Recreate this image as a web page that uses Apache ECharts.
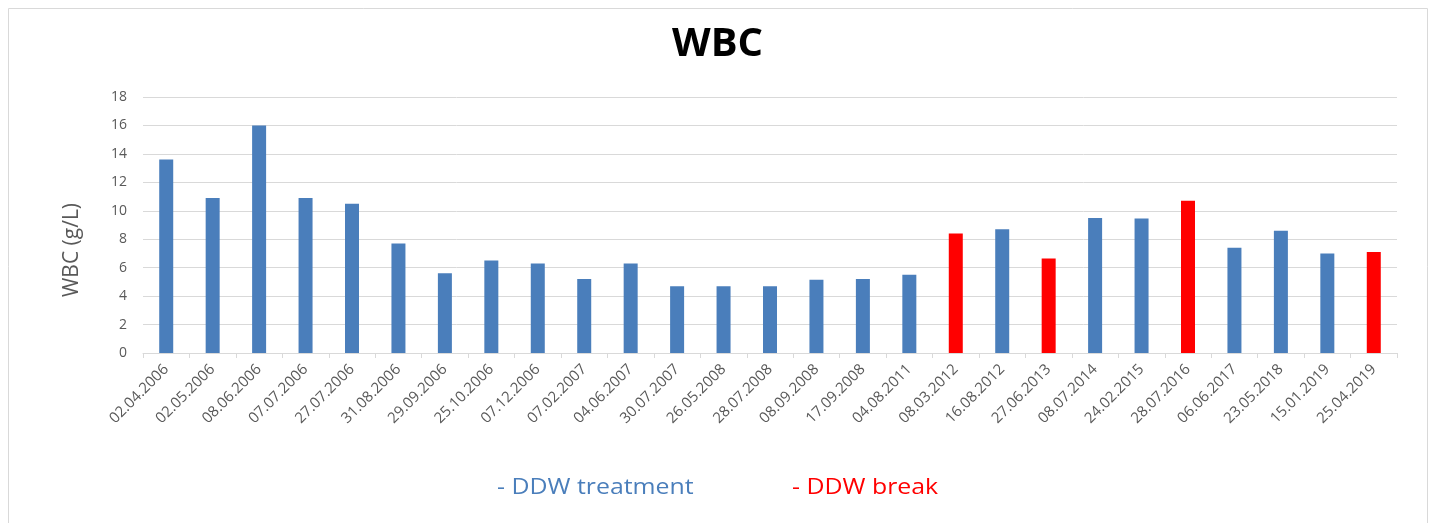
<!DOCTYPE html>
<html>
<head>
<meta charset="utf-8">
<script src="https://cdn.jsdelivr.net/npm/echarts@6/dist/echarts.min.js"></script>
<style>
  html, body { margin: 0; padding: 0; background: #fff; }
  #chart { width: 1435px; height: 523px; }
</style>
</head>
<body>
<div id="chart"></div>
<script>
const dates = ['02.04.2006', '02.05.2006', '08.06.2006', '07.07.2006', '27.07.2006', '31.08.2006',
    '29.09.2006', '25.10.2006', '07.12.2006', '07.02.2007', '04.06.2007', '30.07.2007',
    '26.05.2008', '28.07.2008', '08.09.2008', '17.09.2008', '04.08.2011', '08.03.2012',
    '16.08.2012', '27.06.2013', '08.07.2014', '24.02.2015', '28.07.2016', '06.06.2017',
    '23.05.2018', '15.01.2019', '25.04.2019'];
const wbc = [13.6, 10.9, 16.0, 10.9, 10.5, 7.7, 5.6, 6.5, 6.3, 5.2, 6.3, 4.7, 4.7, 4.7,
    5.15, 5.2, 5.5, 8.4, 8.7, 6.65, 9.5, 9.45, 10.7, 7.4, 8.6, 7.0, 7.1];
// 'T' = DDW treatment, 'B' = DDW break
const phase = ['T', 'T', 'T', 'T', 'T', 'T', 'T', 'T', 'T', 'T', 'T', 'T', 'T', 'T',
    'T', 'T', 'T', 'B', 'T', 'B', 'T', 'T', 'B', 'T', 'T', 'T', 'B'];
const yTicks = { min: 0, max: 18, interval: 2 };

const BLUE = '#4a7ebb';
const RED = '#ff0000';

const chart = echarts.init(document.getElementById('chart'));

const barData = wbc.map((v, i) => ({
    value: v,
    itemStyle: { color: phase[i] === 'B' ? RED : BLUE }
}));

chart.setOption({
    animation: false,
    textStyle: { fontFamily: 'Open Sans' },
    title: {
        text: 'WBC',
        left: 'center',
        top: 20,
        textStyle: { fontSize: 40, fontWeight: 'bold', color: '#000', fontFamily: 'Open Sans' }
    },
    grid: { left: 143, right: 38, top: 97, bottom: 170 },
    xAxis: {
        type: 'category',
        data: dates,
        axisLine: { lineStyle: { color: '#d9d9d9' } },
        axisTick: { show: true, length: 5, lineStyle: { color: '#d9d9d9' } },
        axisLabel: { rotate: 45, color: '#595959', fontSize: 15, margin: 14 }
    },
    yAxis: {
        type: 'value',
        min: yTicks.min,
        max: yTicks.max,
        interval: yTicks.interval,
        name: 'WBC (g/L)',
        nameLocation: 'middle',
        nameGap: 60,
        nameTextStyle: { color: '#595959', fontSize: 21, padding: [0, 50, 0, 0] },
        axisLine: { show: false },
        axisTick: { show: false },
        axisLabel: { color: '#595959', fontSize: 14, margin: 16 },
        splitLine: { lineStyle: { color: '#d9d9d9' } }
    },
    series: [{
        type: 'bar',
        data: barData,
        barWidth: 14
    }],
    graphic: [
        {
            type: 'rect',
            shape: { x: 8.5, y: 8.5, width: 1419, height: 530 },
            style: { fill: 'none', stroke: '#d9d9d9', lineWidth: 1 },
            z: -1
        },
        {
            type: 'text',
            x: 497,
            y: 477,
            scaleX: 1.13,
            style: { text: '- DDW treatment', fill: BLUE, fontSize: 22, fontFamily: 'Open Sans' }
        },
        {
            type: 'text',
            x: 792,
            y: 477,
            scaleX: 1.13,
            style: { text: '- DDW break', fill: RED, fontSize: 22, fontFamily: 'Open Sans' }
        }
    ]
});
</script>
</body>
</html>
